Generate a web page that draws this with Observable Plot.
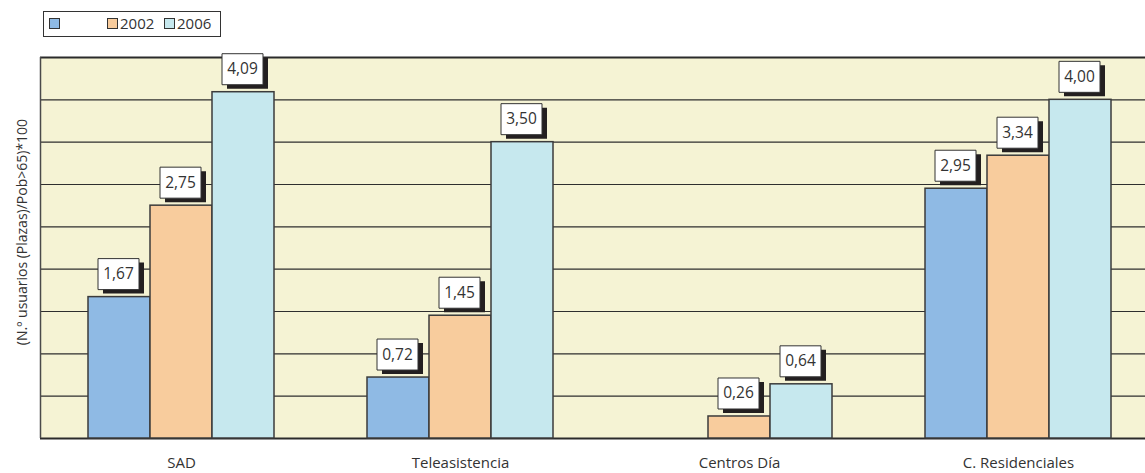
<!DOCTYPE html>
<html>
<head>
<meta charset="utf-8">
<script src="https://cdn.jsdelivr.net/npm/d3@7"></script>
<script src="https://cdn.jsdelivr.net/npm/@observablehq/plot@0.6"></script>
<style>
  html, body { margin: 0; padding: 0; background: #fff; overflow: hidden; }
  #wrap { position: relative; width: 1145px; height: 473px; overflow: hidden; font-family: "Open Sans", sans-serif; color: #333; }
  #wrap svg { position: absolute; left: 0; top: 0; max-width: none !important; }
  .lg { position: absolute; }
  .lg-box { left: 43px; top: 11px; width: 176px; height: 24px; border: 1px solid #333; background: #fff; }
  .sw { position: absolute; width: 9px; height: 9px; border: 1px solid #333; top: 18px; }
  .lt { position: absolute; top: 13px; font-size: 15px; line-height: 20px; color: #333; }
</style>
</head>
<body>
<div id="wrap"></div>
<script>
// ---- data ----
const categories = ["SAD", "Teleasistencia", "Centros Día", "C. Residenciales"];
const seriesKeys = ["s1", "2002", "2006"];
const seriesLabels = ["", "2002", "2006"];
const seriesColors = ["#8fbae4", "#f8cc9d", "#c6e8ee"];
const valuesSeries1 = [1.67, 0.72, null, 2.95];
const values2002 = [2.75, 1.45, 0.26, 3.34];
const values2006 = [4.09, 3.50, 0.64, 4.00];
const yTicks = [0, 0.5, 1, 1.5, 2, 2.5, 3, 3.5, 4, 4.5];
const yLabel = "(N.º usuarios (Plazas)/Pob>65)*100";

const seriesValues = [valuesSeries1, values2002, values2006];
const rows = categories.flatMap((cat, i) =>
  seriesKeys.map((s, j) => ({cat, series: s, value: seriesValues[j][i]}))
).filter(d => d.value != null);

const W = 1160, H = 473;
const margins = {marginLeft: 40, marginRight: 2, marginTop: 57, marginBottom: 35};
const yDomain = [yTicks[0], yTicks[yTicks.length - 1]];
const beige = "#f5f3d4";

// background plot: panel, grid lines, frame, y label
const back = Plot.plot({
  width: W, height: H, ...margins,
  style: {fontFamily: "Open Sans, sans-serif", fontSize: "13px", color: "#333", background: "#fff", maxWidth: "none"},
  x: {domain: [0, 1], axis: null},
  y: {domain: yDomain, axis: null},
  marks: [
    Plot.frame({fill: beige, stroke: null}),
    Plot.ruleY(yTicks, {stroke: "#2e2e2e", strokeWidth: 1.1}),
    Plot.ruleY(yDomain, {stroke: "#2b2b2b", strokeWidth: 2.2}),
    Plot.ruleX([0], {stroke: "#4a4a4a", strokeWidth: 1.5}),
    Plot.text([yLabel], {frameAnchor: "left", textAnchor: "middle", rotate: -90, dx: -18, dy: -16, fontSize: 14, fill: "#333", text: d => d})
  ]
});

// custom rectangular symbol for the value boxes
const boxSymbol = {
  draw(ctx) {
    ctx.moveTo(-20.5, -15.5); ctx.lineTo(20.5, -15.5); ctx.lineTo(20.5, 15.5); ctx.lineTo(-20.5, 15.5); ctx.closePath();
  }
};
const fmt = v => v.toFixed(2).replace(".", ",");

const front = Plot.plot({
  width: W, height: H, ...margins,
  style: {fontFamily: "Open Sans, sans-serif", fontSize: "15px", color: "#333", background: "transparent", maxWidth: "none"},
  fx: {domain: categories, paddingInner: 1/3, paddingOuter: 1/6, axis: "bottom", label: null, tickSize: 0, tickPadding: 19},
  x: {domain: seriesKeys, padding: 0, axis: null},
  y: {domain: yDomain, axis: null},
  color: {domain: seriesKeys, range: seriesColors},
  marks: [
    Plot.barY(rows, {fx: "cat", x: "series", y: "value", fill: "series", stroke: "#3b3b3b", strokeWidth: 1.5}),
    Plot.dot(rows, {fx: "cat", x: "series", y: "value", symbol: boxSymbol, fill: "#231f20", dx: 4, dy: -19}),
    Plot.dot(rows, {fx: "cat", x: "series", y: "value", symbol: boxSymbol, fill: "#fff", stroke: "#333", strokeWidth: 1, dx: -1, dy: -23}),
    Plot.text(rows, {fx: "cat", x: "series", y: "value", text: d => fmt(d.value), dx: -1, dy: -23, fontSize: 15.5, fill: "#333"})
  ]
});

const wrap = document.getElementById("wrap");
wrap.appendChild(back);
wrap.appendChild(front);

// legend (above the chart)
const lgBox = document.createElement("div");
lgBox.className = "lg lg-box";
wrap.appendChild(lgBox);
const swX = [49, 107, 164];
seriesKeys.forEach((s, i) => {
  const sw = document.createElement("div");
  sw.className = "sw";
  sw.style.left = swX[i] + "px";
  sw.style.background = seriesColors[i];
  wrap.appendChild(sw);
  const t = document.createElement("div");
  t.className = "lt";
  t.style.left = (swX[i] + 13) + "px";
  t.textContent = seriesLabels[i];
  wrap.appendChild(t);
});
</script>
</body>
</html>
